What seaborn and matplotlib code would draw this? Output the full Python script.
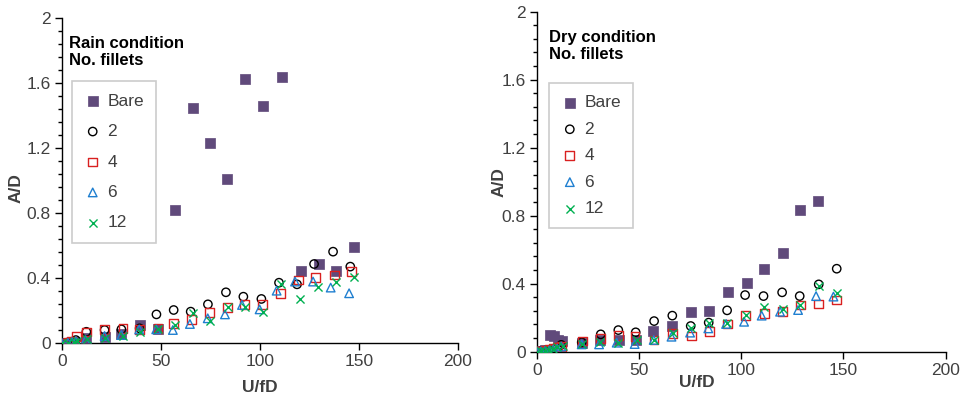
import numpy as np
import pandas as pd
import matplotlib
matplotlib.use("Agg")
import matplotlib.pyplot as plt
from matplotlib.ticker import MultipleLocator
import seaborn as sns

# ---------------- data ----------------
series_names = ["Bare", "2", "4", "6", "12"]

# Rain condition
rain_bare_x = [0, 3, 6, 12, 21.5, 30, 39.5, 48.5, 57.2, 66.2, 74.6, 83.5, 92.6, 101.7, 111.1, 120.5, 129.6, 138.6, 147.3]
rain_bare_y = [0.0, 0.005, 0.01, 0.03, 0.04, 0.06, 0.11, 0.09, 0.82, 1.45, 1.23, 1.01, 1.625, 1.46, 1.64, 0.445, 0.49, 0.445, 0.59]
rain_2_x = [0, 3, 5, 7, 12.3, 21.5, 30, 39.2, 47.7, 56.4, 65, 73.7, 82.8, 91.6, 100.7, 109.6, 118.7, 127.3, 136.9, 145.6]
rain_2_y = [0.0, 0.005, 0.01, 0.02, 0.071, 0.082, 0.086, 0.092, 0.178, 0.205, 0.195, 0.24, 0.314, 0.287, 0.273, 0.373, 0.363, 0.488, 0.564, 0.472]
rain_4_x = [0, 3, 5, 7.5, 12.3, 21.6, 30.8, 39.2, 48.5, 56.4, 65.5, 74.6, 83.5, 92.3, 101.3, 110.3, 119.4, 128.1, 137.5, 146.1]
rain_4_y = [0.0, 0.005, 0.012, 0.041, 0.07, 0.086, 0.092, 0.086, 0.092, 0.123, 0.148, 0.19, 0.222, 0.24, 0.24, 0.308, 0.39, 0.406, 0.42, 0.441]
rain_6_x = [0, 3, 5, 7, 11.9, 21.5, 30, 39, 47.6, 56, 64.6, 73.6, 82.3, 90.9, 99.8, 108.4, 117.7, 126.8, 135.7, 145]
rain_6_y = [0.0, 0.003, 0.008, 0.012, 0.02, 0.045, 0.051, 0.085, 0.086, 0.082, 0.119, 0.154, 0.178, 0.236, 0.209, 0.324, 0.38, 0.38, 0.343, 0.308]
rain_12_x = [0, 3, 5.9, 7.5, 12.6, 21.9, 30.8, 39.6, 48.5, 56.9, 66.2, 74.9, 83.8, 92.6, 101.5, 110.8, 120.2, 129.3, 138.2, 147.3]
rain_12_y = [0.0, 0.004, 0.01, 0.015, 0.025, 0.035, 0.045, 0.068, 0.088, 0.11, 0.185, 0.14, 0.226, 0.226, 0.195, 0.365, 0.273, 0.349, 0.38, 0.406]

# Dry condition
dry_bare_x = [0, 2, 4, 6.5, 8.5, 10.5, 12.5, 22, 31, 40, 48.6, 57, 66.3, 75.5, 84.4, 93.6, 102.7, 111.3, 120.3, 128.9, 137.7]
dry_bare_y = [0.0, 0.005, 0.01, 0.10, 0.09, 0.07, 0.065, 0.053, 0.069, 0.069, 0.069, 0.12, 0.15, 0.235, 0.24, 0.35, 0.404, 0.488, 0.582, 0.835, 0.886]
dry_2_x = [0, 2, 4, 6, 8, 10, 12, 22, 31.3, 39.9, 48.4, 57.4, 66.3, 75.3, 84.1, 93.1, 101.9, 110.9, 120, 128.6, 137.9, 146.7]
dry_2_y = [0.0, 0.003, 0.006, 0.01, 0.015, 0.02, 0.04, 0.055, 0.102, 0.127, 0.114, 0.18, 0.212, 0.151, 0.171, 0.243, 0.333, 0.327, 0.349, 0.327, 0.396, 0.488]
dry_4_x = [0, 2, 4, 6, 8, 10, 12, 22.3, 31, 39.9, 48.1, 57.4, 66.5, 75.5, 84.4, 93.2, 102.2, 111.2, 120, 128.9, 137.7, 146.5]
dry_4_y = [0.0, 0.004, 0.008, 0.012, 0.02, 0.025, 0.03, 0.063, 0.078, 0.094, 0.088, 0.069, 0.108, 0.092, 0.118, 0.163, 0.212, 0.225, 0.235, 0.275, 0.28, 0.304]
dry_6_x = [0, 2, 4, 6, 8, 10, 12, 22, 30.5, 39.1, 47.9, 57.2, 65.9, 75, 83.9, 92.6, 101.4, 110, 119, 127.8, 136.6, 145.1]
dry_6_y = [0.0, 0.002, 0.004, 0.006, 0.012, 0.018, 0.03, 0.043, 0.043, 0.053, 0.045, 0.069, 0.088, 0.112, 0.137, 0.163, 0.176, 0.212, 0.235, 0.245, 0.327, 0.324]
dry_12_x = [0, 2, 4, 6, 8, 10, 13, 22.3, 31, 39.9, 48.9, 57.4, 66.5, 75.5, 84.4, 93.2, 102.2, 111.3, 120.3, 128.9, 138.2, 146.7]
dry_12_y = [0.0, 0.003, 0.006, 0.012, 0.018, 0.025, 0.035, 0.045, 0.059, 0.053, 0.069, 0.069, 0.108, 0.137, 0.167, 0.167, 0.216, 0.265, 0.249, 0.275, 0.386, 0.343]

x_ticks = [0, 50, 100, 150, 200]
y_ticks = [0, 0.4, 0.8, 1.2, 1.6, 2]
y_tick_labels = ["0", "0.4", "0.8", "1.2", "1.6", "2"]

# ---------------- styling ----------------
sns.set_theme(style="ticks")
plt.rcParams["font.family"] = ["Liberation Sans", "DejaVu Sans"]

styles = {
    "Bare": dict(marker="s", color="#604A7B", filled=True, s=48),
    "2": dict(marker="o", color="#000000", filled=False, s=36),
    "4": dict(marker="s", color="#D92020", filled=False, s=40),
    "6": dict(marker="^", color="#1F7FD0", filled=False, s=38),
    "12": dict(marker="x", color="#00B050", filled=None, s=34),
}

fig = plt.figure(figsize=(9.61, 3.98), dpi=100)
ax1 = fig.add_axes([0.0645, 0.1374, 0.4121, 0.8166])
ax2 = fig.add_axes([0.5585, 0.1164, 0.4256, 0.8543])

panels = [
    (ax1, "Rain condition\nNo. fillets",
     [(rain_bare_x, rain_bare_y), (rain_2_x, rain_2_y), (rain_4_x, rain_4_y),
      (rain_6_x, rain_6_y), (rain_12_x, rain_12_y)],
     dict(leg_anchor=(0.025, 0.806), title_pos=(0.018, 0.945), labelspacing=0.88,
          ylab=(-0.096, 0.477), xlab=(0.5, -0.113))),
    (ax2, "Dry condition\nNo. fillets",
     [(dry_bare_x, dry_bare_y), (dry_2_x, dry_2_y), (dry_4_x, dry_4_y),
      (dry_6_x, dry_6_y), (dry_12_x, dry_12_y)],
     dict(leg_anchor=(0.030, 0.790), title_pos=(0.030, 0.945), labelspacing=0.65,
          ylab=(-0.073, 0.499), xlab=(0.392, -0.0685))),
]

for ax, title, data, opt in panels:
    for name, (xs, ys) in zip(series_names, data):
        st = styles[name]
        df = pd.DataFrame({"x": xs, "y": ys})
        if st["filled"] is True:
            sns.scatterplot(data=df, x="x", y="y", ax=ax, marker=st["marker"], s=st["s"],
                            color=st["color"], edgecolor=st["color"], linewidth=0.5,
                            label=name, zorder=3)
        elif st["filled"] is False:
            sns.scatterplot(data=df, x="x", y="y", ax=ax, marker=st["marker"], s=st["s"],
                            facecolors="none", edgecolor=st["color"], linewidth=1.0,
                            label=name, zorder=3)
        else:
            sns.scatterplot(data=df, x="x", y="y", ax=ax, marker=st["marker"], s=st["s"],
                            color=st["color"], linewidth=1.0, label=name, zorder=3)

    ax.set_xlim(0, 200)
    ax.set_ylim(0, 2)
    ax.set_xticks(x_ticks)
    ax.set_xticklabels([str(t) for t in x_ticks])
    ax.set_yticks(y_ticks)
    ax.set_yticklabels(y_tick_labels)
    ax.yaxis.set_minor_locator(MultipleLocator(0.08))
    for s in ("top", "right"):
        ax.spines[s].set_visible(False)
    for s in ("left", "bottom"):
        ax.spines[s].set_color("#000000")
        ax.spines[s].set_linewidth(1.0)
    ax.tick_params(axis="both", which="major", direction="out", length=5, width=1,
                   color="#000000", labelsize=12.5, labelcolor="#404040", pad=3)
    ax.tick_params(axis="y", which="minor", direction="out", length=3, width=1, color="#000000")
    ax.set_xlabel("U/fD", fontsize=12.5, fontweight="bold", color="#404040")
    ax.set_ylabel("A/D", fontsize=12.5, fontweight="bold", color="#404040")
    ax.yaxis.set_label_coords(*opt["ylab"])
    ax.xaxis.set_label_coords(*opt["xlab"])
    ax.grid(False)

    ax.text(opt["title_pos"][0], opt["title_pos"][1], title, transform=ax.transAxes,
            fontsize=12, fontweight="bold", color="#000000", va="top", ha="left",
            linespacing=1.12)

    leg = ax.legend(loc="upper left", bbox_to_anchor=opt["leg_anchor"], frameon=True,
                    fancybox=False, edgecolor="#BFBFBF", fontsize=12.5,
                    handlelength=1.0, handletextpad=0.35, borderpad=0.7,
                    labelspacing=opt["labelspacing"], borderaxespad=0.0)
    leg.get_frame().set_linewidth(1.2)
    for t in leg.get_texts():
        t.set_color("#404040")

fig.savefig("out.png", dpi=100)
